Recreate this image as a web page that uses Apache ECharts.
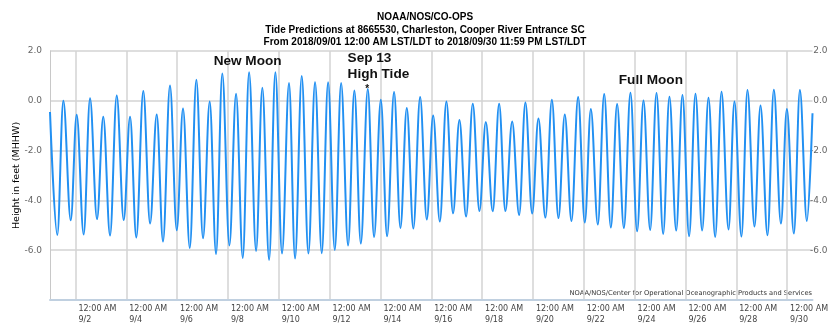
<!DOCTYPE html>
<html><head><meta charset="utf-8">
<script src="https://cdn.jsdelivr.net/npm/echarts@6/dist/echarts.min.js"></script>
<style>html,body{margin:0;padding:0;background:#fff}#c{width:835px;height:332px}</style>
</head><body><div id="c"></div>
<script>
// Title lines
const titleLines = [
  'NOAA/NOS/CO-OPS',
  'Tide Predictions at 8665530, Charleston, Cooper River Entrance SC',
  'From 2018/09/01 12:00 AM LST/LDT to 2018/09/30 11:59 PM LST/LDT'
];
const creditText = 'NOAA/NOS/Center for Operational Oceanographic Products and Services';

// High tides: hours after 2018/09/01 00:00, height in feet (MHHW)
const highHours = [0.0, 12.6, 25.2, 37.8, 50.3, 63.0, 75.6, 88.1, 100.8, 113.3,
  125.6, 138.2, 150.8, 162.7, 175.7, 188.0, 200.5, 212.8, 225.7, 237.7,
  250.3, 262.6, 274.9, 287.4, 300.1, 312.4, 324.9, 336.9, 349.5, 361.8,
  374.3, 386.6, 399.2, 411.5, 424.1, 436.4, 448.9, 461.2, 473.9, 486.1,
  498.7, 510.7, 523.3, 535.5, 548.1, 560.4, 572.7, 584.9, 597.2, 609.5,
  621.8, 634.1, 646.3, 658.6, 670.9, 683.5, 695.8, 708.1];
const highFeet = [-0.45, 0.00, -0.56, 0.10, -0.64, 0.21, -0.64, 0.39, -0.55, 0.61,
  -0.31, 0.85, -0.03, 1.10, 0.28, 1.15, 0.52, 1.15, 0.71, 1.00,
  0.75, 0.75, 0.71, 0.41, 0.47, 0.04, 0.35, -0.29, 0.15, -0.59,
  -0.03, -0.77, -0.12, -0.85, -0.12, -0.83, -0.07, -0.71, 0.04, -0.55,
  0.15, -0.33, 0.27, -0.13, 0.32, 0.01, 0.31, 0.16, 0.23, 0.28,
  0.12, 0.36, -0.03, 0.43, -0.19, 0.44, -0.33, 0.43];

// Low tides
const lowHours = [6.9, 19.6, 31.8, 44.4, 56.7, 69.6, 81.5, 94.5, 106.7, 119.7,
  132.0, 144.5, 156.8, 169.4, 182.0, 194.6, 206.9, 219.1, 231.4, 244.0,
  256.6, 268.9, 281.5, 293.5, 306.0, 318.3, 330.9, 343.1, 355.8, 368.1,
  380.6, 392.9, 405.5, 418.1, 430.0, 443.0, 455.3, 467.8, 480.1, 492.4,
  505.0, 517.3, 529.6, 541.9, 554.4, 566.7, 579.0, 591.3, 603.5, 615.8,
  628.1, 640.7, 652.9, 665.2, 677.5, 690.2, 702.4, 714.7];
const lowFeet = [-5.39, -4.80, -5.37, -4.75, -5.41, -4.79, -5.49, -4.93, -5.65, -5.20,
  -5.91, -5.52, -6.15, -5.81, -6.31, -6.03, -6.39, -6.13, -6.33, -6.13,
  -6.12, -5.99, -5.81, -5.73, -5.47, -5.44, -5.11, -5.13, -4.77, -4.85,
  -4.52, -4.65, -4.43, -4.44, -4.43, -4.59, -4.53, -4.69, -4.71, -4.83,
  -4.89, -4.97, -5.09, -5.11, -5.24, -5.19, -5.35, -5.21, -5.44, -5.21,
  -5.47, -5.17, -5.45, -5.05, -5.40, -4.93, -5.33, -4.83];

// Final sample at 2018/09/30 11:59 PM
const endHours = [720];
const endFeet = [-0.5];

// Axis tick labels
const dayTickLabels = ['9/2','9/4','9/6','9/8','9/10','9/12','9/14','9/16','9/18','9/20','9/22','9/24','9/26','9/28','9/30'];
const timeTickLabel = '12:00 AM';
const yTickValues = [2, 0, -2, -4, -6];

// Annotations: text, hours, feet
const annoText = ['New Moon', 'Sep 13\nHigh Tide', '*', 'Full Moon'];
const annoHours = [186.6, 281.0, 299.6, 567.4];
const annoFeet = [1.58, 1.38, 0.48, 0.84];

// ---- build ----
const pts = [];
highHours.forEach((h, i) => pts.push([h, highFeet[i]]));
lowHours.forEach((h, i) => pts.push([h, lowFeet[i]]));
endHours.forEach((h, i) => pts.push([h, endFeet[i]]));
pts.sort((a, b) => a[0] - b[0]);

const yLabel = v => yTickValues.indexOf(v) >= 0 ? v.toFixed(1) : '';
const xLabel = v => {
  const d = Math.round(v / 24);
  if (d % 2 === 1) {
    const lab = dayTickLabels[(d - 1) / 2];
    return lab ? timeTickLabel + '\n' + lab : '';
  }
  return '';
};

const annoStyles = [
  {align: 'center', fontSize: 13.6},
  {align: 'left', fontSize: 13.6, lineHeight: 16.5},
  {align: 'center', fontSize: 10},
  {align: 'center', fontSize: 13.6}
];

const chart = echarts.init(document.getElementById('c'), null, {renderer: 'canvas'});
chart.setOption({
  animation: false,
  backgroundColor: '#fff',
  title: {
    text: titleLines.join('\n'),
    left: 420, top: 6, textAlign: 'center',
    textStyle: {fontFamily: 'Liberation Sans', fontSize: 10, fontWeight: 'bold', color: '#000', lineHeight: 12.5}
  },
  grid: {left: 50, right: 22.5, top: 51, bottom: 32, containLabel: false, outerBoundsMode: 'none'},
  xAxis: {
    type: 'value', min: 0, max: 720, interval: 24,
    axisLine: {show: true, onZero: false, lineStyle: {color: '#c0d0e0', width: 2}},
    axisTick: {show: false},
    splitLine: {show: true, lineStyle: {color: ['rgba(0,0,0,0)', '#d3d3d3'], width: 1.5}},
    axisLabel: {
      formatter: xLabel, align: 'left', padding: [0, 0, 0, 3], margin: 3,
      lineHeight: 11, fontFamily: 'DejaVu Sans', fontSize: 8, color: '#444'
    }
  },
  yAxis: [{
    type: 'value', min: -8, max: 2, interval: 2, position: 'left',
    axisLine: {show: true, lineStyle: {color: '#c8c8c8', width: 1}},
    axisTick: {show: false},
    splitLine: {show: true, lineStyle: {color: '#d3d3d3', width: 1.5}},
    axisLabel: {formatter: yLabel, margin: 8, fontFamily: 'DejaVu Sans', fontSize: 9, color: '#666'},
    name: 'Height in feet (MHHW)', nameLocation: 'middle', nameGap: 28, nameMoveOverlap: false,
    nameTextStyle: {fontFamily: 'DejaVu Sans', fontSize: 9.5, color: '#000'}
  }, {
    type: 'value', min: -8, max: 2, interval: 2, position: 'right',
    axisLine: {show: false}, axisTick: {show: false}, splitLine: {show: false},
    axisLabel: {formatter: yLabel, align: 'right', margin: 15, fontFamily: 'DejaVu Sans', fontSize: 9, color: '#666'}
  }],
  series: [{
    type: 'line',
    data: pts,
    smooth: 0.36,
    smoothMonotone: 'x',
    showSymbol: false,
    symbol: 'none',
    lineStyle: {color: '#2290f2', width: 2},
    z: 3,
    markPoint: {
      symbol: 'circle', symbolSize: 1,
      itemStyle: {color: 'rgba(0,0,0,0)'},
      data: annoText.map((t, i) => ({
        coord: [annoHours[i], annoFeet[i]],
        value: t,
        label: Object.assign({
          show: true, position: 'inside', formatter: t, verticalAlign: 'middle',
          fontFamily: 'Liberation Sans', fontWeight: 'bold', color: '#111'
        }, annoStyles[i])
      }))
    }
  }],
  graphic: [{
    type: 'text', right: 23, top: 290,
    style: {text: creditText, fontFamily: 'DejaVu Sans', fontSize: 6.7, fill: '#333'}
  }]
});
</script></body></html>
